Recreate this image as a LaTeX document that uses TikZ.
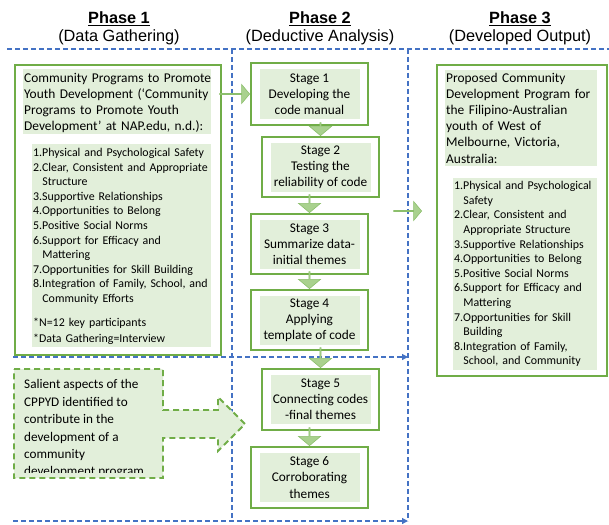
\documentclass[tikz,border=0pt]{standalone}
\usepackage{fontspec}
\setmainfont{Carlito}
\newfontfamily\hdfont{Liberation Sans}
\usetikzlibrary{shapes.arrows,calc,arrows.meta}
\definecolor{gborder}{HTML}{70AD47}
\definecolor{gfill}{HTML}{E2EFDA}
\definecolor{garrow}{HTML}{A9D18E}
\definecolor{garrowd}{HTML}{8CBF6C}
\definecolor{bdash}{HTML}{4472C4}
\newcommand{\indt}{\hspace*{9.2pt}}
\begin{document}
\begin{tikzpicture}[x=1pt,y=-1pt,
  hd/.style={font=\hdfont\fontsize{16.3}{19}\selectfont, inner sep=0, anchor=base},
  bl/.style={draw=bdash, line width=1.3pt, dash pattern=on 5pt off 3pt},
  bltip/.style={-{Triangle[length=6pt,width=6pt]}},
  outerbox/.style={draw=gborder, line width=2pt, fill=white, inner sep=0, anchor=north west},
  fillbox/.style={fill=gfill, inner xsep=1pt, align=left, anchor=north west},
  tfont/.style={font=\fontsize{13.4}{16.1}\selectfont},
  lfont/.style={font=\fontsize{11.9}{14.6}\selectfont},
  stagebox/.style={draw=gborder, line width=2pt, fill=white, inner sep=0, minimum width=117pt, anchor=north west},
  stagetxt/.style={fill=gfill, inner sep=0, minimum width=100pt, minimum height=49pt, align=center, font=\fontsize{13.3}{16.1}\selectfont},
  barrow/.style={single arrow, fill=garrow, draw=garrowd, line width=0.6pt, inner sep=0, single arrow tip angle=100, single arrow head indent=0pt},
  downarrow/.style={barrow, rotate=-90, minimum width=22pt, single arrow head extend=4.5pt, anchor=tip},
  gdash/.style={draw=gborder, line width=1.8pt, dash pattern=on 6pt off 4pt, fill=gfill}
]
\useasboundingbox (0,0) rectangle (609,524);

% headers
\node[hd] (h1) at (119,24) {\textbf{\underline{Phase 1}}};
\node[hd] (h1s) at (119,42) {(Data Gathering)};
\node[hd] (h2) at (320,24) {\textbf{\underline{Phase 2}}};
\node[hd] (h2s) at (320,42) {(Deductive Analysis)};
\node[hd] (h3) at (520,24) {\textbf{\underline{Phase 3}}};
\node[hd] (h3s) at (520,42) {(Developed Output)};

% blue dashed frame lines
\draw[bl] (7,49) -- (609,49);
\draw[bl] (232,49) -- (232,521);
\draw[bl] (408,49) -- (408,521);
\coordinate (m1) at (13,357);
\coordinate (m2) at (408,357);
\coordinate (n1) at (13,521);
\coordinate (n2) at (408,521);
\draw[bl,bltip] (m1) -- (m2);
\draw[bl,bltip] (n1) -- (n2);

% Phase 1 box
\node[outerbox, minimum width=206pt, minimum height=290pt] (b1) at (14,64) {};
\node[fillbox, tfont, text width=186pt, inner ysep=1.6pt] (b1t) at (23,69)
 {\mbox{\rule{0pt}{11.5pt}Community Programs to Promote}\\
  \mbox{Youth Development (‘Community}\\
  \mbox{Programs to Promote Youth}\\
  \mbox{Development’ at NAP.edu, n.d.):}};
\node[fillbox, lfont, text width=177pt, inner ysep=2pt] (b1l) at (32,144)
 {\mbox{\rule{0pt}{10.3pt}1.Physical and Psychological Safety}\\
  \mbox{2.Clear, Consistent and Appropriate}\\
  \indt Structure\\
  3.Supportive Relationships\\
  4.Opportunities to Belong\\
  5.Positive Social Norms\\
  6.Support for Efficacy and\\
  \indt Mattering\\
  \mbox{7.Opportunities for Skill Building}\\
  \mbox{8.Integration of Family, School, and}\\
  \indt Community Efforts\\[9.4pt]
  *N=12 key participants\\[1.4pt]
  *Data Gathering=Interview};

% Salient aspects (dashed callout arrow)
\draw[gdash] (14,369) -- (163,369) -- (163,410) -- (218,410) -- (218,397) -- (245,424)
  -- (218,451) -- (218,438) -- (163,438) -- (163,478) -- (14,478) -- cycle;
\begin{scope}
\clip (15,370) rectangle (162,472.5);
\node[anchor=north west, align=left, inner sep=0, font=\fontsize{13.2}{17.4}\selectfont] (sal) at (24,379.5)
 {Salient aspects of the\\
  CPPYD identified to\\
  contribute in the\\
  development of a\\
  community\\
  development program};
\end{scope}

% Stages
\node[stagebox, minimum height=62pt] (s1) at (250,62) {};
\node[stagetxt] (s1t) at (s1.center) {Stage 1\\ Developing the\\ code manual};
\node[stagebox, minimum height=60pt] (s2) at (261,136) {};
\node[stagetxt] (s2t) at (s2.center) {Stage 2\\ Testing the\\ reliability of code};
\node[stagebox, minimum height=60pt] (s3) at (250,213) {};
\node[stagetxt] (s3t) at (s3.center) {Stage 3\\ Summarize data-\\ initial themes};
\node[stagebox, minimum height=60pt] (s4) at (250,289) {};
\node[stagetxt] (s4t) at (s4.center) {Stage 4\\ Applying\\ template of code};
\node[stagebox, minimum height=61pt] (s5) at (261,368) {};
\node[stagetxt] (s5t) at (s5.center) {Stage 5\\ Connecting codes\\ -final themes};
\node[stagebox, minimum height=61pt] (s6) at (250,446) {};
\node[stagetxt] (s6t) at (s6.center) {Stage 6\\ Corroborating\\ themes};

% block arrows between stages
\node[downarrow, minimum height=13pt] (a12) at (s2.north) {};
\node[downarrow, minimum height=18pt] (a23) at (s3.north) {};
\node[downarrow, minimum height=17pt] (a34) at (s4.north) {};
\node[downarrow, minimum height=20pt] (a45) at (s5.north) {};
\node[downarrow, minimum height=18pt] (a56) at (s6.north) {};

% arrow from Phase 1 box to Stage 1
\node[barrow, minimum height=30pt, minimum width=19pt, single arrow head extend=5pt, anchor=tip] (a01) at (s1.west) {};

% arrow from Phase 2 to Phase 3
\coordinate (p3in) at (422,211);
\node[barrow, minimum height=28pt, minimum width=19pt, single arrow head extend=5.5pt, anchor=tip] (ap3) at (p3in) {};

% Phase 3 box
\node[outerbox, minimum width=170pt, minimum height=311pt] (b3) at (436,64) {};
\node[fillbox, tfont, text width=150pt, inner ysep=3pt] (b3t) at (445,70)
 {Proposed Community\\
  Development Program for\\
  the Filipino-Australian\\
  youth of West of\\
  Melbourne, Victoria,\\
  Australia:};
\node[fillbox, lfont, text width=142pt, inner ysep=3.3pt] (b3l) at (453,178)
 {\mbox{1.Physical and Psychological}\\
  \indt Safety\\
  2.Clear, Consistent and\\
  \indt Appropriate Structure\\
  \mbox{3.Supportive Relationships}\\
  4.Opportunities to Belong\\
  5.Positive Social Norms\\
  6.Support for Efficacy and\\
  \indt Mattering\\
  7.Opportunities for Skill\\
  \indt Building\\
  8.Integration of Family,\\
  \indt School, and Community};
\end{tikzpicture}
\end{document}
